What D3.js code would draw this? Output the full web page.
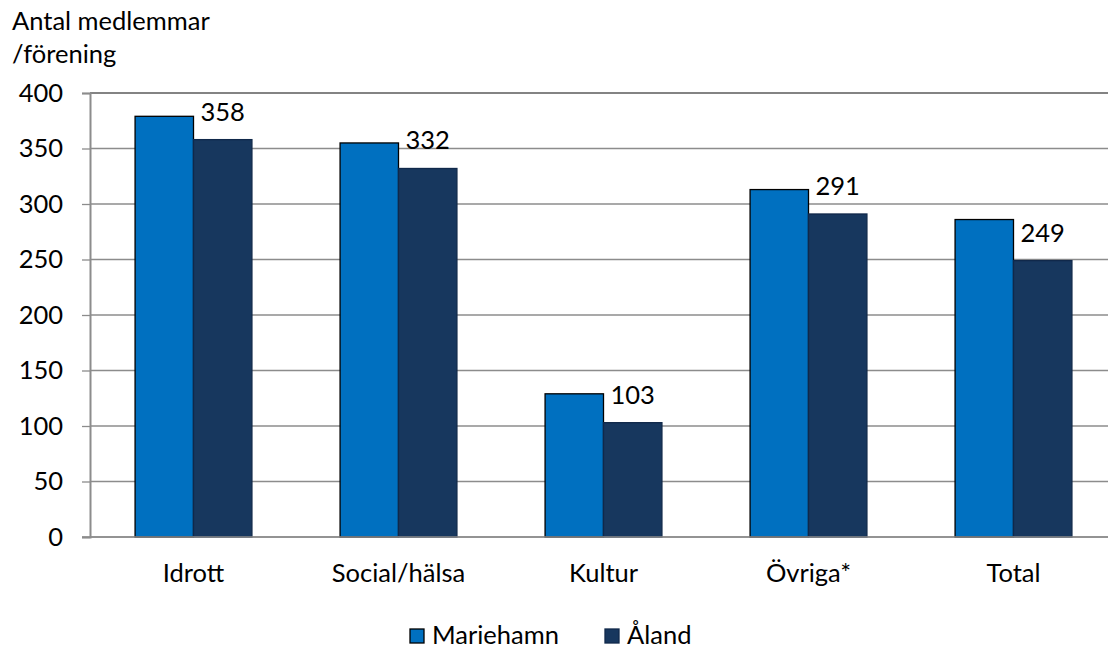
<!DOCTYPE html>
<html><head><meta charset="utf-8">
<script src="https://cdn.jsdelivr.net/npm/d3@7"></script>
<style>body{margin:0;background:#fff}svg{display:block}text{font-family:Lato,"Open Sans",sans-serif;fill:#000}</style>
</head><body><svg id="c" width="1108" height="648"></svg>
<script>
const categories = ["Idrott","Social/hälsa","Kultur","Övriga*","Total"];
const mariehamn = [379,355,129,313,286];
const aland = [358,332,103,291,249];
const seriesNames = ["Mariehamn","Åland"];
const yTicks = [0,50,100,150,200,250,300,350,400];

const FS = 25.5;
const svg = d3.select("#c");
const x = d3.scaleBand().domain(categories).range([91,1116]);
const y = d3.scaleLinear().domain([0,400]).range([537,93]);
const bw = x.bandwidth()*0.285;
const colors = ["#0070C0","#17375E"];
const strokes = ["#000","#10284a"];

// gridlines
svg.append("g").selectAll("line").data(yTicks).join("line")
  .attr("x1",90).attr("x2",1108).attr("y1",d=>y(d)).attr("y2",d=>y(d))
  .attr("stroke",d=>d===400?"#5a5a5a":"#8c8c8c").attr("stroke-width",d=>d===400?1.5:1.3);

// y axis
const ya = svg.append("g").attr("transform","translate(90,0)")
  .call(d3.axisLeft(y).tickValues(yTicks).tickSize(8).tickPadding(19));
ya.select(".domain").attr("stroke","#8c8c8c").attr("stroke-width",2);
ya.selectAll(".tick line").attr("stroke","#8c8c8c").attr("stroke-width",1.3);
ya.selectAll(".tick text").attr("font-size",FS).attr("font-family","Lato,sans-serif").attr("fill","#000");

// bars
const series = [mariehamn, aland];
series.forEach((vals,s)=>{
  svg.append("g").selectAll("rect").data(categories).join("rect")
    .attr("x",c=>x(c)+x.bandwidth()/2 - bw + s*bw)
    .attr("y",(c,i)=>y(vals[i]))
    .attr("width",bw)
    .attr("height",(c,i)=>y(0)-y(vals[i]))
    .attr("fill",colors[s]).attr("stroke",strokes[s]).attr("stroke-width",1.3);
});

// x baseline
svg.append("line").attr("x1",82).attr("x2",1108).attr("y1",y(0)).attr("y2",y(0))
  .attr("stroke","#8c8c8c").attr("stroke-width",1.5);

// value labels on Åland
svg.append("g").selectAll("text").data(categories).join("text")
  .attr("x",c=>x(c)+x.bandwidth()/2 + bw/2)
  .attr("y",(c,i)=>y(aland[i])-19)
  .attr("text-anchor","middle").attr("font-size",FS)
  .text((c,i)=>aland[i]);

// category labels
svg.append("g").selectAll("text").data(categories).join("text")
  .attr("x",c=>x(c)+x.bandwidth()/2)
  .attr("y",582)
  .attr("text-anchor","middle").attr("font-size",FS)
  .text(c=>c);

// axis title
svg.append("text").attr("x",12).attr("y",30).attr("font-size",FS).text("Antal medlemmar");
svg.append("text").attr("x",12).attr("y",63).attr("font-size",FS).text("/förening");

// legend
const legX = [410,605];
seriesNames.forEach((n,s)=>{
  svg.append("rect").attr("x",legX[s]).attr("y",629).attr("width",14).attr("height",14)
    .attr("fill",colors[s]).attr("stroke",strokes[s]).attr("stroke-width",1.3);
  svg.append("text").attr("x",legX[s]+22).attr("y",644).attr("font-size",FS).text(n);
});
</script></body></html>
